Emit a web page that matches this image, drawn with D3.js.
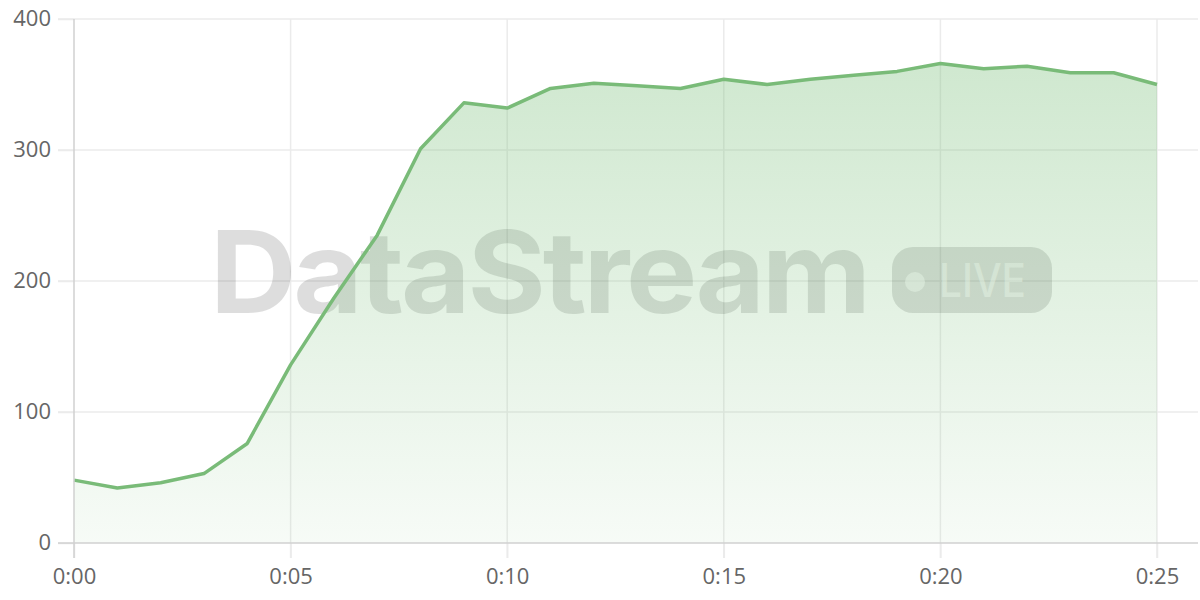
<!DOCTYPE html>
<html><head><meta charset="utf-8">
<script src="https://cdn.jsdelivr.net/npm/d3@7"></script>
<style>html,body{margin:0;padding:0;background:#fff;}svg{display:block;}</style>
</head><body>
<svg id="chart" width="1200" height="600"></svg>
<script>
const minutes = d3.range(0, 26);
const values = [48, 42, 46, 53, 76, 136, 187, 235, 301, 336, 332, 347, 351, 349, 347, 354, 350, 354, 357, 360, 366, 362, 364, 359, 359, 350];
const xTicks = [0, 5, 10, 15, 20, 25];
const yTicks = [0, 100, 200, 300, 400];
const watermarkText = "DataStream";
const badgeText = "LIVE";

const svg = d3.select("#chart");
const x = d3.scaleLinear().domain([0, 25]).range([74, 1157]);
const y = d3.scaleLinear().domain([0, 400]).range([543, 19]);
const fmt = d => "0:" + String(d).padStart(2, "0");
const FONT = "'Open Sans', Inter, sans-serif";

const defs = svg.append("defs");
const grad = defs.append("linearGradient").attr("id", "g").attr("gradientUnits", "userSpaceOnUse")
  .attr("x1", 0).attr("x2", 0).attr("y1", y(400)).attr("y2", y(0));
grad.append("stop").attr("offset", 0).attr("stop-color", "rgb(120,190,120)").attr("stop-opacity", 0.38);
grad.append("stop").attr("offset", 1).attr("stop-color", "rgb(120,190,120)").attr("stop-opacity", 0.06);

// grid
svg.append("g").selectAll("line").data(yTicks.filter(d => d > 0)).join("line")
  .attr("x1", 58).attr("x2", 1198).attr("y1", d => y(d)).attr("y2", d => y(d))
  .attr("stroke", "#ebebeb").attr("stroke-width", 1.5);
svg.append("g").selectAll("line").data(xTicks.filter(d => d > 0)).join("line")
  .attr("x1", d => x(d)).attr("x2", d => x(d)).attr("y1", y(400)).attr("y2", 558)
  .attr("stroke", "#ebebeb").attr("stroke-width", 1.5);

// watermark
const wm = svg.append("g").attr("fill", "rgba(0,0,0,0.135)");
wm.append("text").attr("x", 210).attr("y", 313)
  .attr("font-family", "Inter, 'Open Sans', sans-serif").attr("font-weight", 700)
  .attr("font-size", 114).attr("letter-spacing", -3).text(watermarkText)
  .attr("textLength", 658).attr("lengthAdjust", "spacingAndGlyphs");
wm.append("rect").attr("x", 892).attr("y", 247).attr("width", 160).attr("height", 66).attr("rx", 21);
svg.append("circle").attr("cx", 915).attr("cy", 282).attr("r", 10).attr("fill", "rgba(255,255,255,0.55)");
svg.append("text").attr("x", 939).attr("y", 297)
  .attr("font-family", "Inter, 'Open Sans', sans-serif").attr("font-weight", 500)
  .attr("font-size", 46).attr("fill", "rgba(255,255,255,0.55)")
  .attr("textLength", 87).attr("lengthAdjust", "spacingAndGlyphs").text(badgeText);

// area + line
svg.append("path").datum(values)
  .attr("d", d3.area().x((d, i) => x(minutes[i])).y0(y(0)).y1(d => y(d)))
  .attr("fill", "url(#g)");
svg.append("path").datum(values)
  .attr("d", d3.line().x((d, i) => x(minutes[i])).y(d => y(d)))
  .attr("fill", "none").attr("stroke", "#79bb78").attr("stroke-width", 3.5)
  .attr("stroke-linejoin", "round");

// axes
const xa = svg.append("g").attr("transform", `translate(0,${y(0)})`)
  .call(d3.axisBottom(x).tickValues(xTicks).tickFormat(fmt).tickSize(15).tickPadding(10));
xa.select(".domain").remove();
xa.selectAll(".tick line").attr("stroke", "#ebebeb").attr("stroke-width", 1.5);
xa.selectAll(".tick text").attr("fill", "#666").attr("font-size", 22)
  .attr("font-family", FONT);
const ya = svg.append("g").attr("transform", `translate(74,0)`)
  .call(d3.axisLeft(y).tickValues(yTicks).tickSize(16).tickPadding(7));
ya.select(".domain").remove();
ya.selectAll(".tick line").attr("stroke", "#ebebeb").attr("stroke-width", 1.5);
ya.selectAll(".tick text").attr("fill", "#666").attr("font-size", 22)
  .attr("font-family", FONT).attr("dy", "0.3em");
svg.append("line").attr("x1", 58).attr("x2", 1198).attr("y1", y(0)).attr("y2", y(0))
  .attr("stroke", "#d0d0d0").attr("stroke-width", 1.5);
svg.append("line").attr("x1", 74).attr("x2", 74).attr("y1", y(400)).attr("y2", 558)
  .attr("stroke", "#d0d0d0").attr("stroke-width", 1.5);
</script>
</body></html>
